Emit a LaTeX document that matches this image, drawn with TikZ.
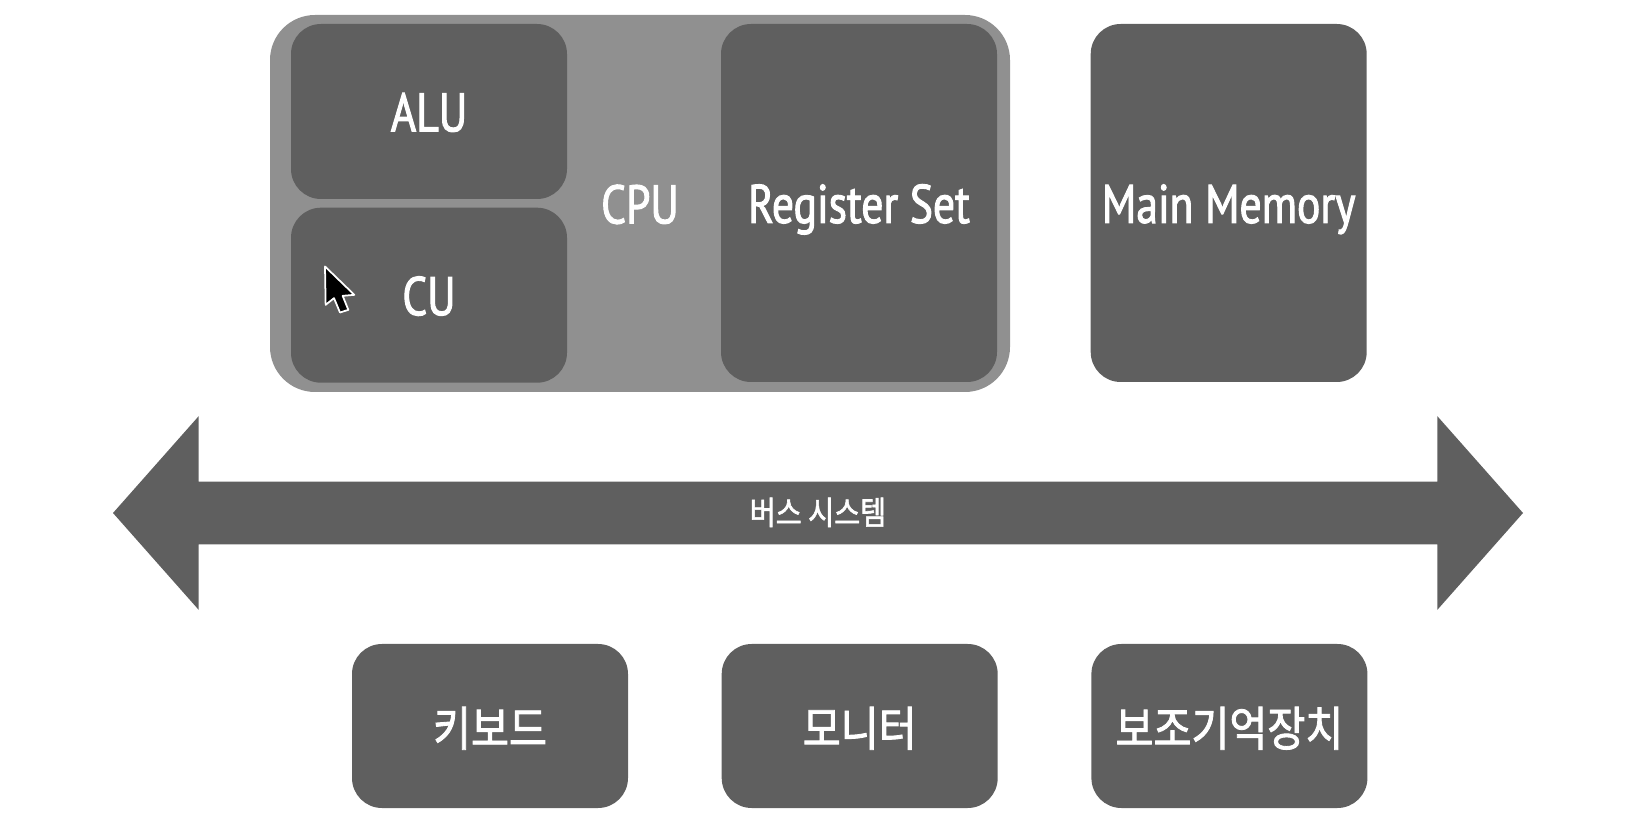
\documentclass[tikz,border=0pt]{standalone}
\usepackage{fontspec}
\setmainfont[FakeStretch=0.8,FakeBold=1.8]{PT Sans}
\newfontfamily\krfont[FakeStretch=0.87,FakeBold=1.8]{Noto Sans CJK KR}
\usepackage{xcolor}
\usetikzlibrary{shapes.arrows,positioning}

\definecolor{boxgray}{HTML}{5F5F5F}
\definecolor{cpugray}{HTML}{909090}

\tikzset{
    unit/.style={fill=boxgray, text=white, rounded corners=0.6cm, minimum width=5.52cm, inner sep=0pt,
        text height=1cm, text depth=0.2cm, font=\fontsize{31}{36}\selectfont},
    tall/.style={unit, minimum height=7.16cm},
    half/.style={unit, minimum height=3.5cm},
    device/.style={unit, minimum height=3.28cm, font=\krfont\fontsize{27}{32}\selectfont},
}

\begin{document}
\begin{tikzpicture}
    \useasboundingbox (0,0) rectangle (32.96,16.68);
    \node[unit, fill=cpugray, rounded corners=0.9cm, minimum width=14.8cm, minimum height=7.54cm] (cpu) at (12.8,12.61) {CPU};
    \node[half] (alu) at (8.58,14.45) {ALU};
    \node[half, below=0.16cm of alu] (cu) {CU};
    \node[tall] (register) at (17.18,12.62) {Register Set};
    \node[tall, right=1.86cm of register] (memory) {Main Memory};

    \node[double arrow, fill=boxgray, text=white, inner sep=0pt, minimum height=28.2cm, minimum width=3.86cm,
        double arrow head extend=1.31cm, double arrow tip angle=97, text height=0.85cm, text depth=0.39cm,
        font=\krfont\fontsize{18.5}{22}\selectfont] (bus) at (16.36,6.42) {버스 시스템};

    \node[device] (keyboard) at (9.8,2.16) {키보드};
    \node[device, right=1.86cm of keyboard] (monitor) {모니터};
    \node[device, right=1.86cm of monitor] (storage) {보조기억장치};

    \coordinate (cursor) at (6.5,11.35);
    \draw[fill=black, draw=white, line width=1pt, line join=round] (cursor) -- ++(0.013,-0.767) -- ++(0.167,0.134) -- ++(0.12,-0.287)
        -- ++(0.167,0.053) -- ++(-0.114,0.28) -- ++(0.234,0.02) -- cycle;
\end{tikzpicture}
\end{document}
